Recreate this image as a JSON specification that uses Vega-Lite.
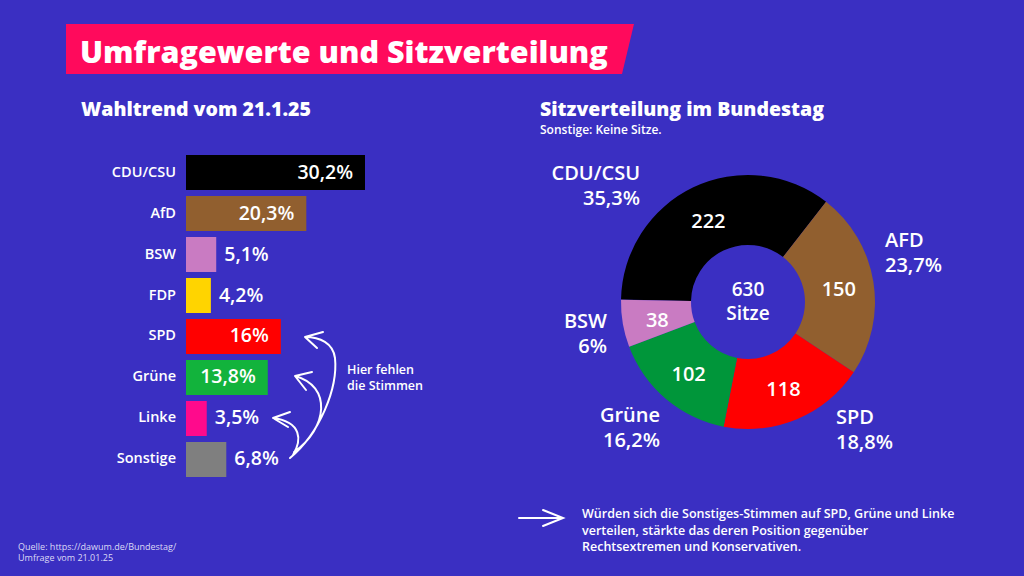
{
  "$schema": "https://vega.github.io/schema/vega-lite/v6.json",
  "width": 1024,
  "height": 576,
  "autosize": {"type": "fit", "contains": "padding"},
  "padding": 0,
  "background": "#3a2fc2",
  "config": {
    "view": {"stroke": null},
    "font": "Open Sans",
    "text": {"font": "Open Sans", "color": "white"},
    "locale": {"number": {"decimal": ",", "thousands": ".", "grouping": [3], "currency": ["", " €"]}}
  },
  "datasets": {
    "poll": [
      {"party": "CDU/CSU", "share": 0.302},
      {"party": "AfD", "share": 0.203},
      {"party": "BSW", "share": 0.051},
      {"party": "FDP", "share": 0.042},
      {"party": "SPD", "share": 0.16},
      {"party": "Grüne", "share": 0.138},
      {"party": "Linke", "share": 0.035},
      {"party": "Sonstige", "share": 0.068}
    ],
    "seats": [
      {"party": "CDU/CSU", "seats": 222, "share": 0.353},
      {"party": "AFD", "seats": 150, "share": 0.237},
      {"party": "SPD", "seats": 118, "share": 0.188},
      {"party": "Grüne", "seats": 102, "share": 0.162},
      {"party": "BSW", "seats": 38, "share": 0.06}
    ]
  },
  "layer": [
    {
      "data": {"values": [{}]},
      "mark": {"type": "point", "shape": "M0,0L568,0L556,50L0,50Z", "size": 4, "filled": true, "color": "#ff0a5c", "opacity": 1, "strokeWidth": 0},
      "encoding": {"x": {"value": 66}, "y": {"value": 24}}
    },
    {
      "data": {"values": [{}]},
      "mark": {"type": "text", "text": "Umfragewerte und Sitzverteilung", "align": "left", "baseline": "alphabetic", "fontSize": 30.5, "fontWeight": 800},
      "encoding": {"x": {"value": 80}, "y": {"value": 63}}
    },
    {
      "data": {"values": [{}]},
      "mark": {"type": "text", "text": "Wahltrend vom 21.1.25", "align": "left", "baseline": "alphabetic", "fontSize": 19.5, "fontWeight": 800},
      "encoding": {"x": {"value": 81}, "y": {"value": 116}}
    },
    {
      "data": {"values": [{}]},
      "mark": {"type": "text", "text": "Sitzverteilung im Bundestag", "align": "left", "baseline": "alphabetic", "fontSize": 19.5, "fontWeight": 800},
      "encoding": {"x": {"value": 540}, "y": {"value": 116}}
    },
    {
      "data": {"values": [{}]},
      "mark": {"type": "text", "text": "Sonstige: Keine Sitze.", "align": "left", "baseline": "alphabetic", "fontSize": 12, "fontWeight": 600},
      "encoding": {"x": {"value": 540}, "y": {"value": 134}}
    },
    {
      "data": {"name": "poll"},
      "encoding": {
        "y": {
          "field": "party", "type": "nominal", "axis": null,
          "scale": {"domain": ["CDU/CSU", "AfD", "BSW", "FDP", "SPD", "Grüne", "Linke", "Sonstige"], "range": [155, 477], "paddingInner": 0.146, "paddingOuter": 0}
        }
      },
      "layer": [
        {
          "mark": {"type": "bar", "opacity": 1},
          "encoding": {
            "x": {"field": "share", "type": "quantitative", "axis": null, "scale": {"domain": [0, 0.302], "range": [186, 365], "nice": false}},
            "color": {
              "field": "party", "type": "nominal", "legend": null,
              "scale": {"domain": ["CDU/CSU", "AfD", "BSW", "FDP", "SPD", "Grüne", "Linke", "Sonstige"], "range": ["#000000", "#915f2f", "#c97bc2", "#ffd400", "#ff0000", "#12b33c", "#ff0a8c", "#7f7f7f"]}
            }
          }
        },
        {
          "mark": {"type": "text", "align": "right", "baseline": "middle", "dx": -10, "fontSize": 14.5, "fontWeight": 600},
          "encoding": {"x": {"datum": 0, "type": "quantitative"}, "text": {"field": "party", "type": "nominal"}}
        },
        {
          "transform": [{"filter": "datum.share >= 0.1"}],
          "mark": {"type": "text", "align": "right", "baseline": "middle", "dx": -12, "fontSize": 19.5, "fontWeight": 600},
          "encoding": {"x": {"field": "share", "type": "quantitative"}, "text": {"field": "share", "type": "quantitative", "format": ".1~%"}}
        },
        {
          "transform": [{"filter": "datum.share < 0.1"}],
          "mark": {"type": "text", "align": "left", "baseline": "middle", "dx": 8, "fontSize": 19.5, "fontWeight": 600},
          "encoding": {"x": {"field": "share", "type": "quantitative"}, "text": {"field": "share", "type": "quantitative", "format": ".1~%"}}
        }
      ]
    },
    {
      "data": {"name": "seats"},
      "encoding": {
        "theta": {"field": "seats", "type": "quantitative", "stack": true, "scale": {"range": [-1.552, 4.731]}},
        "order": {"field": "seats", "type": "quantitative", "sort": "descending"},
        "x": {"value": 748},
        "y": {"value": 302}
      },
      "layer": [
        {
          "mark": {"type": "arc", "outerRadius": 127, "innerRadius": 57},
          "encoding": {
            "color": {
              "field": "party", "type": "nominal", "legend": null,
              "scale": {"domain": ["CDU/CSU", "AFD", "SPD", "Grüne", "BSW"], "range": ["#000000", "#915f2f", "#ff0000", "#00963a", "#c97bc2"]}
            }
          }
        },
        {
          "mark": {"type": "text", "radius": 92, "fontSize": 20, "fontWeight": 600, "baseline": "middle", "dy": 3},
          "encoding": {"text": {"field": "seats", "type": "quantitative"}}
        }
      ]
    },
    {
      "data": {"name": "seats"},
      "transform": [{"filter": "datum.party === 'CDU/CSU'"}],
      "encoding": {"x": {"value": 640}},
      "layer": [
        {"mark": {"type": "text", "align": "right", "baseline": "alphabetic", "fontSize": 20, "fontWeight": 600}, "encoding": {"y": {"value": 180}, "text": {"field": "party", "type": "nominal"}}},
        {"mark": {"type": "text", "align": "right", "baseline": "alphabetic", "fontSize": 20, "fontWeight": 600}, "encoding": {"y": {"value": 205}, "text": {"field": "share", "type": "quantitative", "format": ".1~%"}}}
      ]
    },
    {
      "data": {"name": "seats"},
      "transform": [{"filter": "datum.party === 'AFD'"}],
      "encoding": {"x": {"value": 885}},
      "layer": [
        {"mark": {"type": "text", "align": "left", "baseline": "alphabetic", "fontSize": 20, "fontWeight": 600}, "encoding": {"y": {"value": 247}, "text": {"field": "party", "type": "nominal"}}},
        {"mark": {"type": "text", "align": "left", "baseline": "alphabetic", "fontSize": 20, "fontWeight": 600}, "encoding": {"y": {"value": 272}, "text": {"field": "share", "type": "quantitative", "format": ".1~%"}}}
      ]
    },
    {
      "data": {"name": "seats"},
      "transform": [{"filter": "datum.party === 'BSW'"}],
      "encoding": {"x": {"value": 607}},
      "layer": [
        {"mark": {"type": "text", "align": "right", "baseline": "alphabetic", "fontSize": 20, "fontWeight": 600}, "encoding": {"y": {"value": 328}, "text": {"field": "party", "type": "nominal"}}},
        {"mark": {"type": "text", "align": "right", "baseline": "alphabetic", "fontSize": 20, "fontWeight": 600}, "encoding": {"y": {"value": 353}, "text": {"field": "share", "type": "quantitative", "format": ".1~%"}}}
      ]
    },
    {
      "data": {"name": "seats"},
      "transform": [{"filter": "datum.party === 'Grüne'"}],
      "encoding": {"x": {"value": 660}},
      "layer": [
        {"mark": {"type": "text", "align": "right", "baseline": "alphabetic", "fontSize": 20, "fontWeight": 600}, "encoding": {"y": {"value": 422}, "text": {"field": "party", "type": "nominal"}}},
        {"mark": {"type": "text", "align": "right", "baseline": "alphabetic", "fontSize": 20, "fontWeight": 600}, "encoding": {"y": {"value": 447}, "text": {"field": "share", "type": "quantitative", "format": ".1~%"}}}
      ]
    },
    {
      "data": {"name": "seats"},
      "transform": [{"filter": "datum.party === 'SPD'"}],
      "encoding": {"x": {"value": 836}},
      "layer": [
        {"mark": {"type": "text", "align": "left", "baseline": "alphabetic", "fontSize": 20, "fontWeight": 600}, "encoding": {"y": {"value": 424}, "text": {"field": "party", "type": "nominal"}}},
        {"mark": {"type": "text", "align": "left", "baseline": "alphabetic", "fontSize": 20, "fontWeight": 600}, "encoding": {"y": {"value": 449}, "text": {"field": "share", "type": "quantitative", "format": ".1~%"}}}
      ]
    },
    {
      "data": {"values": [{}]},
      "mark": {"type": "text", "text": ["630", "Sitze"], "align": "center", "baseline": "alphabetic", "lineHeight": 24, "fontSize": 19, "fontWeight": 600},
      "encoding": {"x": {"value": 748}, "y": {"value": 296}}
    },
    {
      "data": {"values": [{}]},
      "mark": {"type": "text", "text": ["Hier fehlen", "die Stimmen"], "align": "left", "baseline": "alphabetic", "lineHeight": 15.5, "fontSize": 12.5, "fontWeight": 600},
      "encoding": {"x": {"value": 347}, "y": {"value": 374}}
    },
    {
      "data": {"values": [{}]},
      "mark": {
        "type": "point",
        "shape": "M0,0C30,-25 48,-70 45,-100C43,-115 30,-121 15,-121M33,-126L15,-121L27,-110M4,-6C38,-30 42,-72 5,-82M22,-86L5,-82L16,-68M3,-3C12,-18 12,-36 -17,-40M0,-46L-17,-40L-2,-31",
        "size": 4, "filled": false, "stroke": "white", "strokeWidth": 2, "opacity": 1, "strokeCap": "round", "strokeJoin": "round"
      },
      "encoding": {"x": {"value": 290}, "y": {"value": 458}}
    },
    {
      "data": {"values": [{}]},
      "mark": {
        "type": "point",
        "shape": "M0,0L44,0M24,-8L44,0L24,8",
        "size": 4, "filled": false, "stroke": "white", "strokeWidth": 2, "opacity": 1, "strokeCap": "round"
      },
      "encoding": {"x": {"value": 519}, "y": {"value": 518}}
    },
    {
      "data": {"values": [{}]},
      "mark": {"type": "text", "text": ["Würden sich die Sonstiges-Stimmen auf SPD, Grüne und Linke", "verteilen, stärkte das deren Position gegenüber", "Rechtsextremen und Konservativen."], "align": "left", "baseline": "alphabetic", "lineHeight": 16.5, "fontSize": 12.5, "fontWeight": 600},
      "encoding": {"x": {"value": 582}, "y": {"value": 518}}
    },
    {
      "data": {"values": [{}]},
      "mark": {"type": "text", "text": ["Quelle: https://dawum.de/Bundestag/", "Umfrage vom 21.01.25"], "align": "left", "baseline": "alphabetic", "lineHeight": 11, "fontSize": 9, "fontWeight": 400, "color": "#dcdaf5"},
      "encoding": {"x": {"value": 18}, "y": {"value": 550}}
    }
  ],
  "resolve": {"scale": {"color": "independent"}}
}
